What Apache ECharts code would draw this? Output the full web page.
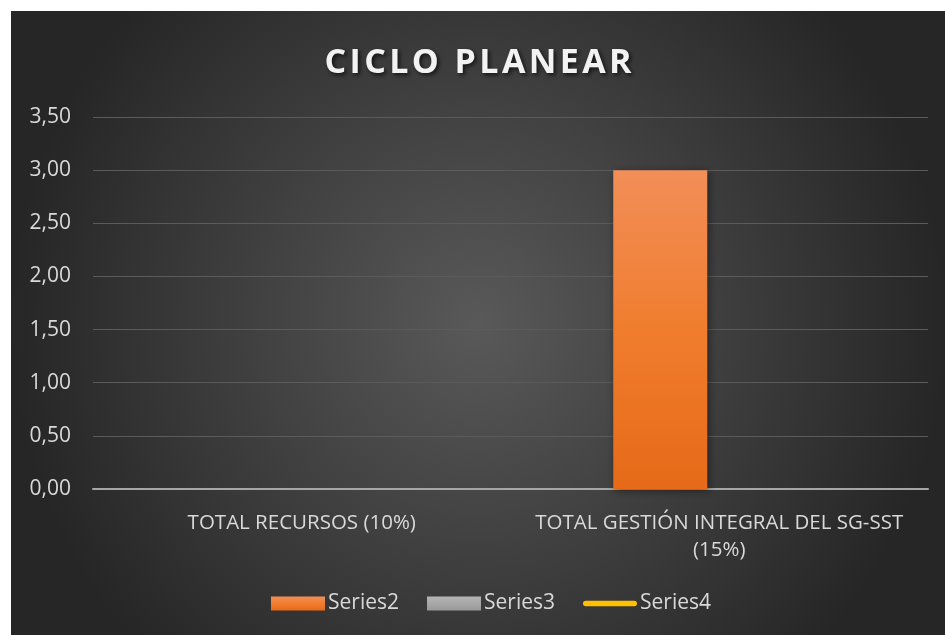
<!DOCTYPE html>
<html>
<head>
<meta charset="utf-8">
<script src="https://cdn.jsdelivr.net/npm/echarts@6/dist/echarts.min.js"></script>
<style>
html,body{margin:0;padding:0;background:#ffffff;width:945px;height:635px;overflow:hidden;}
#chart{position:absolute;left:11px;top:11px;width:934px;height:624px;}
</style>
</head>
<body>
<div id="chart"></div>
<script>
const titleText = 'CICLO PLANEAR';
const categories = ['TOTAL RECURSOS (10%)', 'TOTAL GESTIÓN INTEGRAL DEL SG-SST\n(15%)'];
const series2 = [0, 3.0];
const series3 = [0, 0];
const series4 = [null, null];
const yTicks = {min: 0, max: 3.5, interval: 0.5};

const spaced = titleText.split('').join('\u200A');
const chart = echarts.init(document.getElementById('chart'), null, {renderer: 'canvas'});
const fontFam = '"Open Sans", "Noto Sans", sans-serif';
chart.setOption({
  backgroundColor: {
    type: 'radial', x: 0.5, y: 0.5, r: 0.75,
    colorStops: [{offset: 0, color: '#595959'}, {offset: 1, color: '#262626'}]
  },
  animation: false,
  title: {
    text: spaced,
    left: 'center', top: 30,
    textStyle: {
      color: '#f2f2f2', fontSize: 34, fontWeight: 'bold', fontFamily: fontFam,
      textShadowColor: 'rgba(0,0,0,0.7)', textShadowBlur: 4, textShadowOffsetX: 2, textShadowOffsetY: 2
    }
  },
  grid: {left: 82, right: 17, top: 106, bottom: 146, containLabel: false},
  xAxis: {
    type: 'category', data: categories,
    axisLine: {show: true, lineStyle: {color: '#a6a6a6', width: 2}},
    axisTick: {show: false},
    axisLabel: {color: '#d9d9d9', fontSize: 20.5, fontFamily: fontFam, margin: 21, lineHeight: 27, interval: 0}
  },
  yAxis: {
    type: 'value', min: yTicks.min, max: yTicks.max, interval: yTicks.interval,
    axisLine: {show: false}, axisTick: {show: false},
    splitLine: {lineStyle: {color: '#5b5b5b', width: 1}},
    axisLabel: {color: '#d9d9d9', fontSize: 21, fontFamily: fontFam, margin: 22,
      formatter: v => v.toFixed(2).replace('.', ',')}
  },
  legend: {
    bottom: 16, left: 255, itemGap: 28, itemWidth: 54, itemHeight: 14,
    textStyle: {color: '#d9d9d9', fontSize: 21, fontFamily: fontFam, padding: [0,0,0,-2]},
    data: [
      {name: 'Series2', icon: 'rect'},
      {name: 'Series3', icon: 'rect'},
      {name: 'Series4', icon: 'path://M3,0 L55,0 A3,3 0 0 1 55,6 L3,6 A3,3 0 0 1 3,0 Z'}
    ]
  },
  series: [
    {
      name: 'Series2', type: 'bar', data: series2, barWidth: 94, barGap: '25.5%',
      itemStyle: {
        color: {type: 'linear', x: 0, y: 0, x2: 0, y2: 1,
          colorStops: [{offset: 0, color: '#f28e58'}, {offset: 0.5, color: '#f07d2e'}, {offset: 1, color: '#e66a18'}]},
        shadowColor: 'rgba(0,0,0,0.45)', shadowBlur: 8, shadowOffsetX: 2, shadowOffsetY: 2
      }
    },
    {
      name: 'Series3', type: 'bar', data: series3, barWidth: 94,
      itemStyle: {
        color: {type: 'linear', x: 0, y: 0, x2: 0, y2: 1,
          colorStops: [{offset: 0, color: '#b5b5b5'}, {offset: 1, color: '#999999'}]}
      }
    },
    {
      name: 'Series4', type: 'line', data: series4, symbol: 'none',
      lineStyle: {color: '#ffc000', width: 6, cap: 'round'},
      itemStyle: {color: '#ffc000'}, z: 1
    }
  ]
});
</script>
</body>
</html>
